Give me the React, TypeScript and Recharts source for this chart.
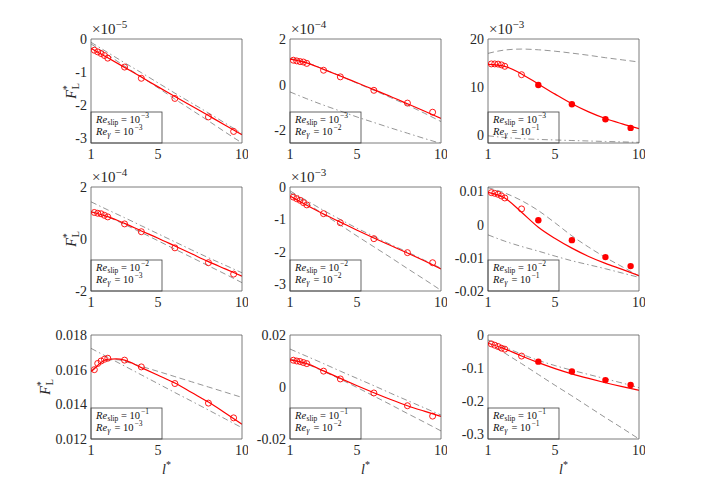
import React from "react";
import { ComposedChart, Line, Scatter, XAxis, YAxis } from "recharts";

// l* of the simulations (markers) and the grid the model curves are read on
const L_STAR = [1.2, 1.4, 1.6, 1.8, 2.0, 3, 4, 6, 8, 9.5];
const CURVE_X = [1, 2, 3, 4, 5, 6, 7, 8, 9, 10];
const PEAK_X = [1, 1.2, 1.4, 1.6, 1.8, 2, 2.5, 3, 4, 5, 6, 7, 8, 9, 10];
const DASH31_X = [1, 1.5, 2, 2.5, 3, 4, 5, 6, 7, 8, 9, 10];
const X_TICKS = [1, 5, 10];
const RE_SLIP = ["−3", "−2", "−1"]; // per row
const RE_GAMMA = ["−3", "−2", "−1"]; // per column
const OPEN_COL3 = 6; // right column: first six markers open, rest filled

// row 1, Re_slip = 1e-3
const sim11 = [-0.34, -0.39, -0.44, -0.5, -0.58, -0.85, -1.19, -1.8, -2.36, -2.8];
const red11 = [-0.28, -0.57, -0.86, -1.15, -1.45, -1.74, -2.03, -2.32, -2.61, -2.9];
const dash11 = [-0.15, -0.48, -0.82, -1.15, -1.48, -1.82, -2.15, -2.48, -2.82, -3.15];
const dot11 = [-0.1, -0.41, -0.72, -1.02, -1.33, -1.64, -1.94, -2.24, -2.55, -2.86];

const sim12 = [1.07, 1.04, 1.01, 0.99, 0.93, 0.63, 0.34, -0.25, -0.81, -1.21];
const red12 = [1.12, 0.95, 0.67, 0.38, 0.08, -0.22, -0.52, -0.84, -1.16, -1.48];
const dash12 = [1.15, 0.96, 0.68, 0.38, 0.06, -0.25, -0.57, -0.9, -1.25, -1.62];
const dot12 = [-0.32, -0.62, -0.9, -1.16, -1.42, -1.66, -1.9, -2.13, -2.36, -2.58];

const sim13 = [14.8, 14.8, 14.76, 14.6, 14.3, 12.55, 10.4, 6.4, 3.24, 1.45];
const red13 = [14.7, 14.3, 12.7, 10.6, 8.5, 6.5, 4.8, 3.4, 2.3, 1.3];
const dash13 = [17.0, 17.7, 17.9, 17.75, 17.45, 17.05, 16.6, 16.1, 15.65, 15.2];
const dot13 = [-0.2, -0.55, -0.8, -0.95, -1.07, -1.18, -1.28, -1.38, -1.47, -1.56];

// row 2, Re_slip = 1e-2
const sim21 = [1.02, 0.99, 0.97, 0.91, 0.85, 0.58, 0.28, -0.34, -0.91, -1.35];
const red21 = [1.04, 0.86, 0.6, 0.31, 0.03, -0.27, -0.57, -0.87, -1.15, -1.43];
const dash21 = [1.06, 0.85, 0.56, 0.25, -0.07, -0.39, -0.71, -1.03, -1.35, -1.68];
const dot21 = [1.43, 1.12, 0.82, 0.51, 0.2, -0.11, -0.42, -0.72, -1.01, -1.3];

const sim22 = [-0.31, -0.36, -0.41, -0.48, -0.55, -0.82, -1.1, -1.59, -2.02, -2.33];
const red22 = [-0.28, -0.56, -0.83, -1.08, -1.33, -1.57, -1.8, -2.03, -2.27, -2.52];
const dash22 = [-0.17, -0.5, -0.84, -1.17, -1.51, -1.84, -2.17, -2.51, -2.84, -3.18];
const dot22 = [-0.12, -0.42, -0.72, -1.0, -1.27, -1.52, -1.77, -2.0, -2.25, -2.5];

const sim23 = [0.0096, 0.0094, 0.0091, 0.0086, 0.008, 0.0047, 0.0013, -0.0047, -0.0098, -0.0125];
const red23 = [0.0097, 0.008, 0.0037, -0.0008, -0.0042, -0.0071, -0.0096, -0.0117, -0.0135, -0.0154];
const dash23 = [0.0111, 0.0095, 0.0072, 0.0042, 0.0005, -0.0034, -0.0068, -0.0099, -0.0127, -0.0155];
const dot23 = [-0.0031, -0.005, -0.0066, -0.008, -0.0095, -0.0109, -0.0121, -0.0133, -0.0146, -0.0159];

// row 3, Re_slip = 1e-1
const sim31 = [0.016, 0.01636, 0.0165, 0.0166, 0.01666, 0.01655, 0.01616, 0.0152, 0.01407, 0.01322];
const red31 = [0.0159, 0.01605, 0.01625, 0.01642, 0.01654, 0.0166, 0.01662, 0.01655, 0.01612, 0.01568, 0.01523, 0.01468, 0.01413, 0.0135, 0.01285];
const dash31 = [0.0159, 0.01635, 0.01655, 0.01658, 0.01648, 0.01619, 0.0159, 0.0156, 0.0153, 0.015, 0.0147, 0.0144];
const dot31 = [0.01723, 0.01672, 0.01621, 0.0157, 0.01519, 0.01468, 0.01418, 0.01367, 0.01316, 0.01265];

const sim32 = [0.0103, 0.01, 0.0098, 0.0094, 0.009, 0.0061, 0.0031, -0.0023, -0.0072, -0.0112];
const red32 = [0.0104, 0.009, 0.0062, 0.0033, 0.0005, -0.0022, -0.0048, -0.0072, -0.0093, -0.0113];
const dash32 = [0.0108, 0.0088, 0.006, 0.003, -0.0002, -0.0035, -0.0068, -0.0102, -0.0135, -0.0169];
const dot32 = [0.0146, 0.0118, 0.009, 0.0061, 0.0033, 0.0005, -0.0024, -0.0052, -0.008, -0.0108];

const sim33 = [-0.027, -0.031, -0.035, -0.04, -0.043, -0.064, -0.081, -0.111, -0.137, -0.152];
const red33 = [-0.025, -0.042, -0.064, -0.084, -0.102, -0.118, -0.132, -0.145, -0.157, -0.168];
const dash33 = [-0.022, -0.055, -0.087, -0.12, -0.153, -0.185, -0.218, -0.251, -0.283, -0.316];
const dot33 = [-0.015, -0.037, -0.058, -0.077, -0.093, -0.107, -0.12, -0.133, -0.146, -0.16];

const PANELS = [
  { sim: sim11, red: red11, redX: CURVE_X, dash: dash11, dashX: CURVE_X, dot: dot11, domain: [-3.15, 0], ticks: [-3, -2, -1, 0], exp: "−5" },
  { sim: sim12, red: red12, redX: CURVE_X, dash: dash12, dashX: CURVE_X, dot: dot12, domain: [-2.56, 2], ticks: [-2, 0, 2], exp: "−4" },
  { sim: sim13, red: red13, redX: CURVE_X, dash: dash13, dashX: CURVE_X, dot: dot13, domain: [-1.7, 20], ticks: [0, 10, 20], exp: "−3" },
  { sim: sim21, red: red21, redX: CURVE_X, dash: dash21, dashX: CURVE_X, dot: dot21, domain: [-2, 2], ticks: [-2, 0, 2], exp: "−4" },
  { sim: sim22, red: red22, redX: CURVE_X, dash: dash22, dashX: CURVE_X, dot: dot22, domain: [-3.2, 0], ticks: [-3, -2, -1, 0], exp: "−3" },
  { sim: sim23, red: red23, redX: CURVE_X, dash: dash23, dashX: CURVE_X, dot: dot23, domain: [-0.02, 0.0113], ticks: [-0.02, -0.01, 0, 0.01], exp: "" },
  { sim: sim31, red: red31, redX: PEAK_X, dash: dash31, dashX: DASH31_X, dot: dot31, domain: [0.012, 0.018], ticks: [0.012, 0.014, 0.016, 0.018], exp: "" },
  { sim: sim32, red: red32, redX: CURVE_X, dash: dash32, dashX: CURVE_X, dot: dot32, domain: [-0.02, 0.02], ticks: [-0.02, 0, 0.02], exp: "" },
  { sim: sim33, red: red33, redX: CURVE_X, dash: dash33, dashX: CURVE_X, dot: dot33, domain: [-0.316, 0], ticks: [-0.3, -0.2, -0.1, 0], exp: "" },
];

const FONT = "Liberation Serif, DejaVu Serif, serif";
const TXT = "#262626";
const AX = "#5a5a5a";
const GRAY = "#8a8a8a";
const RED = "#ff0000";

const PLOT_W = 151, PLOT_H = 104;
const LEFT = 60, TOP = 20, RIGHT = 6, BOTTOM = 42;
const COL_X = [91, 290, 488];
const ROW_Y = [39, 187, 335];

const pts = (xs: number[], ys: number[]) => ys.map((y, i) => ({ x: xs[i], y }));

const OpenDot = (p: any) => (
  <circle cx={p.cx} cy={p.cy} r={3} fill="none" stroke={RED} strokeWidth={0.9} />
);
const FullDot = (p: any) => <circle cx={p.cx} cy={p.cy} r={3.2} fill={RED} stroke="none" />;

function ExpLabel({ exp }: { exp: string }) {
  return (
    <text x={LEFT + 1} y={TOP - 5.5} style={{ fontFamily: FONT }} fontSize={15} fill={TXT}>
      <tspan>×10</tspan>
      <tspan fontSize={11} dy={-6}>{exp}</tspan>
    </text>
  );
}

// one line of the Re box; the sub- and superscript are drawn as separate texts
function ReLine({ y, sub, val, italicSub }: { y: number; sub: string; val: string; italicSub?: boolean }) {
  const x = LEFT + 5;
  const subW = italicSub ? 4.5 : 11;
  const eqX = x + 12 + subW + 2;
  return (
    <g style={{ fontFamily: FONT }} fill="#111">
      <text x={x} y={y} fontSize={10.5} fontStyle="italic">Re</text>
      <text x={x + 11.5} y={y + 2.5} fontSize={7.5} fontStyle={italicSub ? "italic" : "normal"}>{sub}</text>
      <text x={eqX} y={y} fontSize={10.5}>{"= 10"}</text>
      <text x={eqX + 20} y={y - 4.5} fontSize={7.5}>{val}</text>
    </g>
  );
}

function ReBox({ row, col }: { row: number; col: number }) {
  const y0 = TOP + PLOT_H;
  return (
    <g>
      <rect x={LEFT} y={y0 - 31} width={71} height={31} fill="none" stroke="#404040" strokeWidth={0.8} />
      <ReLine y={y0 - 20.5} sub="slip" val={RE_SLIP[row]} />
      <ReLine y={y0 - 8.5} sub="γ" val={RE_GAMMA[col]} italicSub />
    </g>
  );
}

function YLabel({ row }: { row: number }) {
  const bx = row === 2 ? 19 : 45;
  const cy = TOP + PLOT_H / 2;
  return (
    <text x={bx} y={cy} transform={`rotate(-90 ${bx} ${cy})`} textAnchor="middle"
          style={{ fontFamily: FONT }} fontSize={14} fill={TXT}>
      <tspan fontStyle="italic">F</tspan>
      <tspan fontSize={10} dy={-6}>*</tspan>
      <tspan fontSize={10} dx={-4} dy={9}>L</tspan>
    </text>
  );
}

function XLabel() {
  const cx = LEFT + PLOT_W / 2;
  return (
    <text x={cx} y={TOP + PLOT_H + 35} textAnchor="middle" style={{ fontFamily: FONT }} fontSize={14} fill={TXT}>
      <tspan fontStyle="italic">l</tspan>
      <tspan fontSize={10} dy={-6}>*</tspan>
    </text>
  );
}

function Panel({ p, row, col }: { p: (typeof PANELS)[number]; row: number; col: number }) {
  const nOpen = col === 2 ? OPEN_COL3 : p.sim.length;
  const open = pts(L_STAR.slice(0, nOpen), p.sim.slice(0, nOpen));
  const full = pts(L_STAR.slice(nOpen), p.sim.slice(nOpen));
  const tickStyle = { fill: TXT, fontSize: 14, fontFamily: FONT, style: { fontFamily: FONT } };
  const line = { stroke: AX, strokeWidth: 0.8 };
  const w = LEFT + PLOT_W + RIGHT;
  const h = TOP + PLOT_H + BOTTOM;

  return (
    <div style={{ position: "absolute", left: COL_X[col] - LEFT, top: ROW_Y[row] - TOP, width: w, height: h }}>
      <ComposedChart width={w} height={h} margin={{ top: TOP, right: RIGHT, bottom: 0, left: 0 }}>
        <XAxis xAxisId="x" dataKey="x" type="number" domain={[1, 10]} ticks={X_TICKS} interval={0}
               allowDataOverflow height={BOTTOM} axisLine={line} tickLine={false} tickSize={0}
               tickMargin={6} tick={tickStyle} label={row === 2 ? () => <XLabel /> : undefined} />
        <XAxis xAxisId="xb" dataKey="x" type="number" domain={[1, 10]} ticks={X_TICKS} interval={0}
               orientation="bottom" mirror height={1} axisLine={false} tickLine={line} tickSize={3} tick={false} />
        <XAxis xAxisId="xt" dataKey="x" type="number" domain={[1, 10]} ticks={X_TICKS} interval={0}
               orientation="top" mirror height={1} axisLine={line} tickLine={line} tickSize={3} tick={false}
               label={p.exp ? () => <ExpLabel exp={p.exp} /> : undefined} />
        <YAxis yAxisId="y" dataKey="y" type="number" domain={p.domain} ticks={p.ticks} interval={0}
               allowDataOverflow width={LEFT} axisLine={line} tickLine={false} tickSize={0}
               tickMargin={4} tick={tickStyle} tickFormatter={(v) => String(v)}
               label={col === 0 ? () => <YLabel row={row} /> : undefined} />
        <YAxis yAxisId="yl" dataKey="y" type="number" domain={p.domain} ticks={p.ticks} interval={0}
               orientation="left" mirror width={1} axisLine={false} tickLine={line} tickSize={3} tick={false} />
        <YAxis yAxisId="yr" dataKey="y" type="number" domain={p.domain} ticks={p.ticks} interval={0}
               orientation="right" mirror width={1} axisLine={line} tickLine={line} tickSize={3} tick={false}
               label={() => <ReBox row={row} col={col} />} />

        <Line xAxisId="x" yAxisId="y" data={pts(CURVE_X, p.dot)} dataKey="y" type="monotone"
              stroke={GRAY} strokeWidth={0.9} strokeDasharray="6 3 1.5 3" dot={false} isAnimationActive={false} />
        <Line xAxisId="x" yAxisId="y" data={pts(p.dashX, p.dash)} dataKey="y" type="monotone"
              stroke={GRAY} strokeWidth={0.9} strokeDasharray="6 3.5" dot={false} isAnimationActive={false} />
        <Line xAxisId="x" yAxisId="y" data={pts(p.redX, p.red)} dataKey="y" type="monotone"
              stroke={RED} strokeWidth={1.2} dot={false} isAnimationActive={false} />
        <Scatter xAxisId="x" yAxisId="y" data={open} dataKey="y" shape={OpenDot} isAnimationActive={false} />
        {full.length > 0 && (
          <Scatter xAxisId="x" yAxisId="y" data={full} dataKey="y" shape={FullDot} isAnimationActive={false} />
        )}
      </ComposedChart>
    </div>
  );
}

export default function App() {
  return (
    <div style={{ position: "fixed", left: 0, top: 0, width: 706, height: 494, background: "#fff" }}>
      {PANELS.map((p, i) => (
        <Panel key={i} p={p} row={Math.floor(i / 3)} col={i % 3} />
      ))}
    </div>
  );
}
